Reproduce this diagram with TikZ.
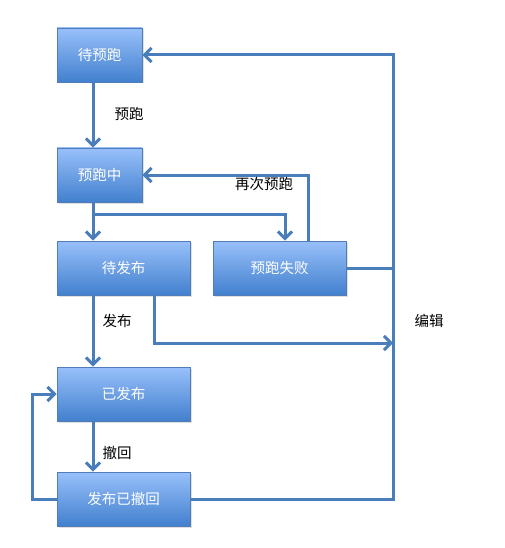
\documentclass[tikz,border=0pt]{standalone}
\definecolor{FlowBlue}{RGB}{74, 126, 187}
\definecolor{StateTop}{RGB}{152, 192, 250}
\definecolor{StateBottom}{RGB}{66, 128, 206}
\definecolor{StateBorder}{RGB}{80, 125, 185}
\usepackage{fontspec}
\newfontfamily\cjk{Noto Sans CJK SC}
\usetikzlibrary{arrows.meta, positioning, shadows}

\begin{document}
\begin{tikzpicture}[x=1pt, y=-1pt,
    state/.style={draw=StateBorder, line width=0.8pt, top color=StateTop, bottom color=StateBottom,
      minimum width=85pt, minimum height=54pt, inner sep=0pt, text=white,
      font=\cjk\fontsize{14.5}{16}\selectfont,
      drop shadow={shadow xshift=1.5pt, shadow yshift=-1.5pt, opacity=0.25}},
    widestate/.style={state, minimum width=133pt},
    flow/.style={draw=FlowBlue, line width=3pt, -{Straight Barb[length=7pt, width=14pt]}},
    plainflow/.style={draw=FlowBlue, line width=3pt},
    lbl/.style={font=\cjk\fontsize{14.5}{16}\selectfont, inner sep=1pt}]
  \useasboundingbox (0,0) rectangle (504,548);

  % states
  \node[state] (waitrun) at (99.5,55) {待预跑};
  \node[state] (running) at (99.5,175) {预跑中};
  \node[widestate] (pending) at (123.5,268) {待发布};
  \node[widestate] (failed) at (279.5,268) {预跑失败};
  \node[widestate] (published) at (123.5,394) {已发布};
  \node[widestate] (undone) at (123.5,499) {发布已撤回};

  % helper points
  \coordinate (spine) at (93,0);
  \coordinate (bus) at (393,0);
  \coordinate (loop) at (32,0);
  \coordinate (fork) at (93,214);
  \coordinate (editin) at (393,343);

  % main flow
  \draw[flow] (waitrun.south -| spine) -- (running.north -| spine);
  \draw[flow] (running.south -| spine) -- (pending.north -| spine);
  \draw[flow] (fork) -| ([xshift=5.5pt]failed.north);
  \draw[flow] ([xshift=28.5pt]failed.north) |- (running.east);
  \draw[flow] (pending.south -| spine) -- (published.north -| spine);
  \draw[flow] (published.south -| spine) -- (undone.north -| spine);
  \draw[flow] (undone.west) -- (undone.west -| loop) |- (published.west);

  % edit back to start
  \draw[flow] (undone.east) -| (waitrun.east -| bus) -- (waitrun.east);
  \draw[plainflow] (failed.east) -- (failed.east -| bus);
  \draw[flow] ([xshift=30.5pt]pending.south) |- (editin);

  % labels
  \node[lbl] (runlbl) at (129,114) {预跑};
  \node[lbl] (retrylbl) at (264,184) {再次预跑};
  \node[lbl] (publbl) at (117,321) {发布};
  \node[lbl] (undolbl) at (117,453) {撤回};
  \node[lbl] (editlbl) at (429,321) {编辑};
\end{tikzpicture}
\end{document}
